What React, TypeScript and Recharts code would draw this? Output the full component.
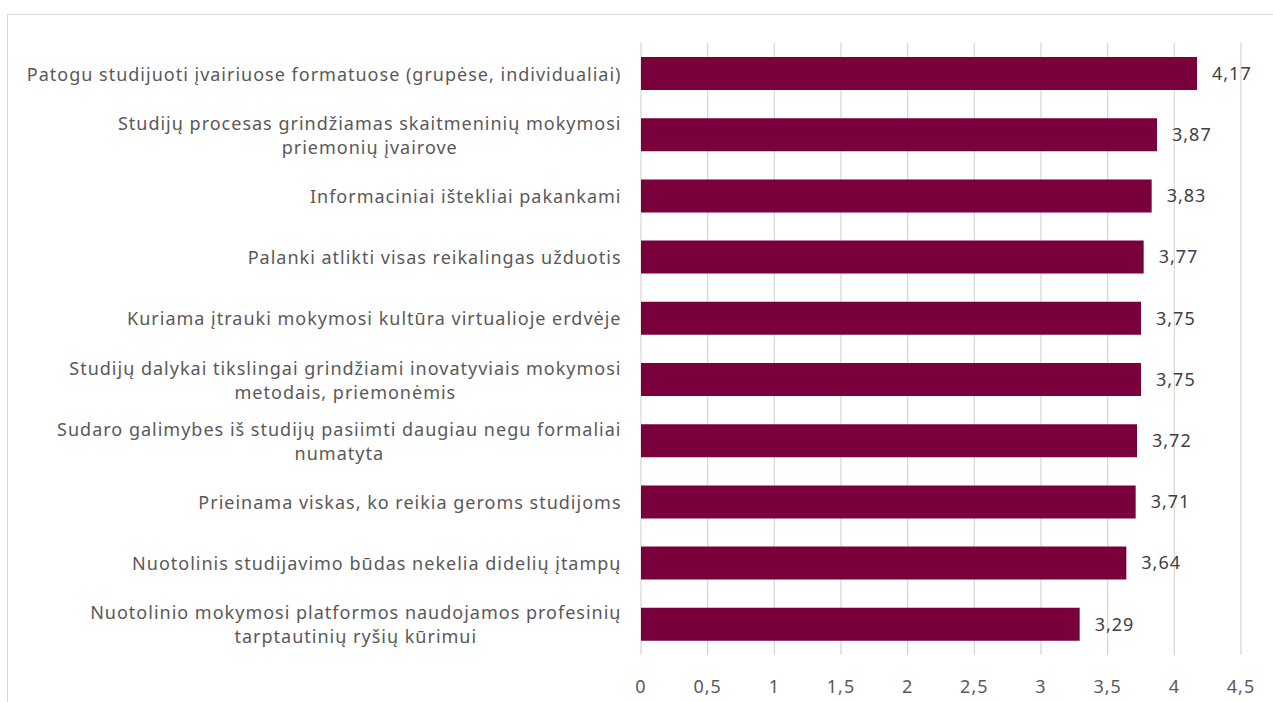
import React from 'react';
import { BarChart, Bar, XAxis, YAxis, CartesianGrid, LabelList } from 'recharts';

const categories: string[] = [
  'Patogu studijuoti įvairiuose formatuose (grupėse, individualiai)',
  'Studijų procesas grindžiamas skaitmeninių mokymosi\npriemonių įvairove',
  'Informaciniai ištekliai pakankami ',
  'Palanki atlikti visas reikalingas užduotis',
  'Kuriama įtrauki mokymosi kultūra virtualioje erdvėje',
  'Studijų dalykai tikslingai grindžiami inovatyviais mokymosi\nmetodais, priemonėmis',
  'Sudaro galimybes iš studijų pasiimti daugiau negu formaliai\nnumatyta',
  'Prieinama viskas, ko reikia geroms studijoms',
  'Nuotolinis studijavimo būdas nekelia didelių įtampų',
  'Nuotolinio mokymosi platformos naudojamos profesinių\ntarptautinių ryšių kūrimui',
];
const values: number[] = [4.17, 3.87, 3.83, 3.77, 3.75, 3.75, 3.72, 3.71, 3.64, 3.29];
const xTicks: number[] = [0, 0.5, 1, 1.5, 2, 2.5, 3, 3.5, 4, 4.5];

const data = categories.map((c, i) => ({ name: c, value: values[i] }));

const FONT = '"Noto Sans", sans-serif';
const FS = 18;
const LS = 1;
const BAR = '#7a003c';
const TEXT = '#595959';

const fmt = (v: number) => String(v).replace('.', ',');

let ctx: CanvasRenderingContext2D | null = null;
function measure(s: string): number {
  if (!ctx) ctx = document.createElement('canvas').getContext('2d');
  if (!ctx) return s.length * 9;
  ctx.font = `${FS}px ${FONT}`;
  return ctx.measureText(s).width + LS * (s.length - 1);
}

function CatTick(props: any) {
  const { x, y, payload } = props;
  const lines = String(payload.value).split('\n');
  const maxW = Math.max(...lines.map((l) => measure(l.trimEnd())));
  const cx = x - maxW / 2;
  const lh = 24;
  const y0 = y - ((lines.length - 1) * lh) / 2;
  return (
    <text textAnchor="middle" fontFamily={FONT} fontSize={FS} fill={TEXT} letterSpacing={LS}>
      {lines.map((l, i) => (
        <tspan key={i} x={cx} y={y0 + i * lh} dominantBaseline="central">
          {l.trimEnd()}
        </tspan>
      ))}
    </text>
  );
}

export default function App() {
  return (
    <div style={{ position: 'absolute', left: 0, top: 0, width: 1273, height: 702, background: '#fff', overflow: 'hidden' }}>
      <div
        style={{
          position: 'absolute',
          left: 7,
          top: 14,
          width: 1400,
          height: 800,
          borderTop: '1px solid #d9d9d9',
          borderLeft: '1px solid #d9d9d9',
        }}
      />
      <div style={{ position: 'absolute', left: 0, top: 0 }}>
        <BarChart
          width={1273}
          height={702}
          data={data}
          layout="vertical"
          margin={{ top: 43, right: 32, bottom: 0, left: 0 }}
        >
          <CartesianGrid horizontal={false} stroke="#d9d9d9" strokeWidth={1.3} />
          <XAxis
            type="number"
            domain={[0, 4.5]}
            ticks={xTicks}
            tickFormatter={fmt}
            axisLine={false}
            tickLine={false}
            tickSize={0}
            tickMargin={25}
            height={47}
            interval={0}
            tick={{ fontFamily: FONT, fontSize: FS, fill: TEXT, letterSpacing: LS }}
          />
          <YAxis
            type="category"
            dataKey="name"
            width={641}
            axisLine={false}
            tickLine={false}
            tickSize={0}
            tickMargin={20}
            interval={0}
            tick={<CatTick />}
          />
          <Bar dataKey="value" fill={BAR} barSize={33} isAnimationActive={false}>
            <LabelList
              dataKey="value"
              position="right"
              offset={15}
              formatter={(v: any) => fmt(Number(v))}
              style={{ fontFamily: FONT, fontSize: FS, fill: '#404040', letterSpacing: LS }}
            />
          </Bar>
        </BarChart>
      </div>
    </div>
  );
}
